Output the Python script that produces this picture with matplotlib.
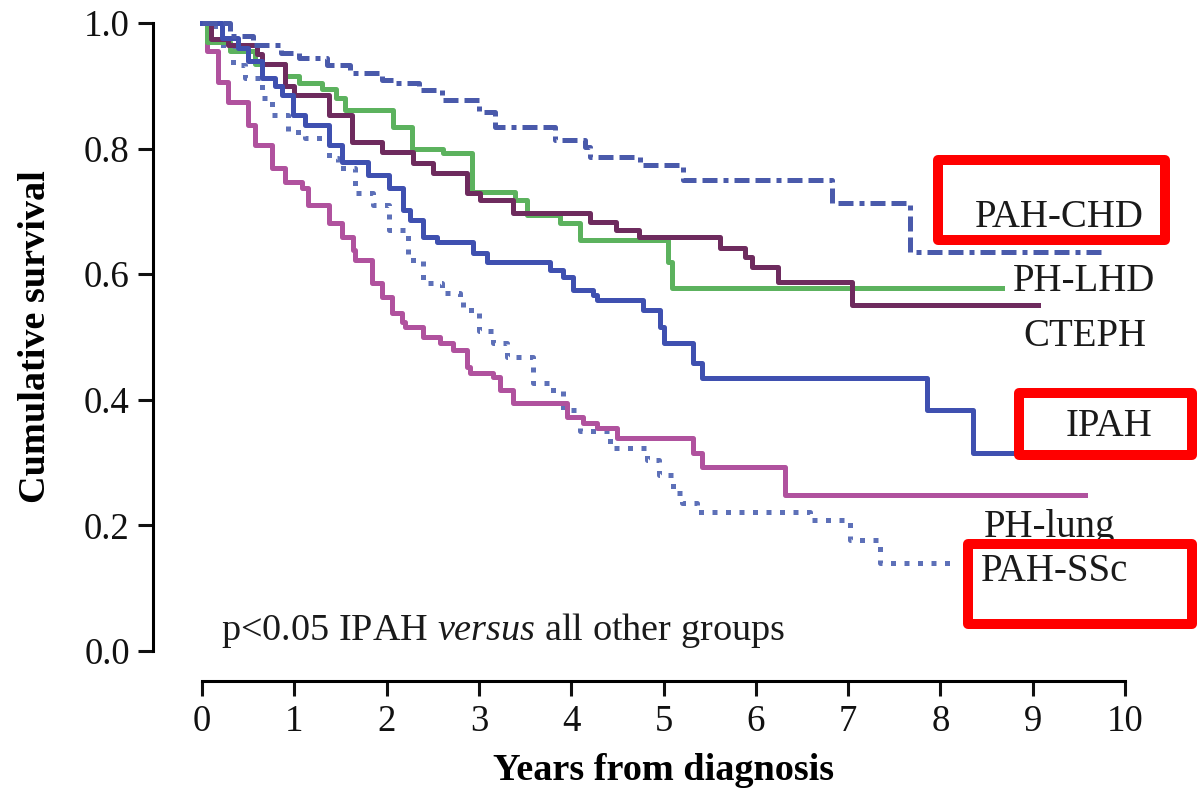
import matplotlib
matplotlib.use("Agg")
import matplotlib.pyplot as plt
from matplotlib.patches import Rectangle

plt.rcParams['font.family'] = ['Liberation Serif', 'DejaVu Serif']
plt.rcParams['mathtext.fontset'] = 'custom'
plt.rcParams['mathtext.rm'] = 'Liberation Serif'
plt.rcParams['mathtext.it'] = 'Liberation Serif:italic'

# Kaplan-Meier survival per group (time in years, survival after the step)
ipah_t = [0, 0.22, 0.39, 0.5, 0.65, 0.79, 0.87, 0.98, 1.12, 1.37, 1.52, 1.80, 2.02, 2.18, 2.25,
          2.39, 2.55, 2.94, 3.09, 3.77, 3.91, 4.02, 4.24, 4.28, 4.78, 4.96, 5.0, 5.32, 5.42, 7.85, 8.35]
ipah_s = [1.0, 0.976, 0.96, 0.94, 0.912, 0.90, 0.885, 0.853, 0.838, 0.806, 0.779, 0.758, 0.737, 0.702, 0.686,
          0.659, 0.651, 0.634, 0.619, 0.607, 0.596, 0.575, 0.567, 0.559, 0.543, 0.516, 0.49, 0.459, 0.435, 0.384, 0.315]
ipah_end = 9.2

chd_t = [0, 0.3, 0.55, 0.85, 1.05, 1.35, 1.6, 1.95, 2.1, 2.35, 2.6, 3.0, 3.17, 3.82, 4.15, 4.2, 4.75, 5.21, 6.83, 7.67]
chd_s = [1.0, 0.98, 0.965, 0.952, 0.944, 0.933, 0.92, 0.91, 0.905, 0.893, 0.877, 0.858, 0.835, 0.814, 0.803,
         0.787, 0.774, 0.75, 0.713, 0.635]
chd_end = 9.75

lhd_t = [0, 0.05, 0.3, 0.57, 0.9, 1.05, 1.3, 1.45, 1.55, 2.07, 2.28, 2.61, 2.93, 3.39, 3.52, 3.88, 4.10, 5.05, 5.09]
lhd_s = [1.0, 0.97, 0.955, 0.935, 0.915, 0.905, 0.895, 0.88, 0.862, 0.834, 0.80, 0.793, 0.731, 0.718, 0.694,
         0.682, 0.654, 0.62, 0.578]
lhd_end = 8.67

cteph_t = [0, 0.1, 0.28, 0.6, 0.65, 0.9, 1.0, 1.37, 1.62, 1.95, 2.29, 2.5, 2.87, 3.01, 3.37, 4.2, 4.48, 4.73,
           5.61, 5.88, 5.96, 6.24, 7.04]
cteph_s = [1.0, 0.975, 0.965, 0.95, 0.935, 0.9, 0.885, 0.853, 0.81, 0.795, 0.777, 0.761, 0.729, 0.718, 0.697,
           0.683, 0.67, 0.659, 0.642, 0.627, 0.611, 0.588, 0.551]
cteph_end = 9.06

lung_t = [0, 0.05, 0.17, 0.28, 0.5, 0.57, 0.76, 0.9, 1.08, 1.15, 1.37, 1.52, 1.63, 1.66, 1.84, 1.95, 2.06, 2.17,
          2.2, 2.39, 2.58, 2.72, 2.87, 2.90, 3.15, 3.23, 3.37, 3.95, 4.13, 4.28, 4.50, 5.32, 5.42, 6.32]
lung_s = [1.0, 0.955, 0.906, 0.874, 0.838, 0.806, 0.769, 0.747, 0.737, 0.71, 0.682, 0.659, 0.639, 0.623, 0.586,
          0.564, 0.538, 0.524, 0.516, 0.5, 0.49, 0.479, 0.452, 0.443, 0.436, 0.416, 0.395, 0.373, 0.363, 0.355,
          0.339, 0.315, 0.293, 0.248]
lung_end = 9.57

ssc_t = [0, 0.14, 0.33, 0.47, 0.65, 0.76, 0.93, 1.12, 1.37, 1.47, 1.66, 1.85, 2.02, 2.23, 2.39, 2.6, 2.80, 2.83,
         3.0, 3.15, 3.30, 3.59, 3.77, 3.91, 4.1, 4.42, 4.82, 4.95, 5.10, 5.2, 5.36, 6.59, 7.02, 7.35]
ssc_s = [1.0, 0.965, 0.933, 0.912, 0.88, 0.853, 0.826, 0.817, 0.785, 0.769, 0.729, 0.71, 0.67, 0.623, 0.586, 0.57,
         0.559, 0.543, 0.51, 0.49, 0.468, 0.427, 0.416, 0.384, 0.35, 0.323, 0.304, 0.28, 0.252, 0.235, 0.221,
         0.209, 0.177, 0.14]
ssc_end = 8.10

groups = ["PAH-CHD", "PH-LHD", "CTEPH", "IPAH", "PH-lung", "PAH-SSc"]

fig = plt.figure(figsize=(11.97, 7.88), dpi=100)
ax = fig.add_axes([0.1688, 0.1739, 0.7711, 0.7969])


def km(t, s, end, **kw):
    ax.step(t + [end], s + [s[-1]], where="post", clip_on=False, **kw)


km(ssc_t, ssc_s, ssc_end, color="#5d70b8", lw=3.6, linestyle=(0, (1, 1.7)))
km(lung_t, lung_s, lung_end, color="#b0529e", lw=3.6)
km(lhd_t, lhd_s, lhd_end, color="#5cb25e", lw=3.6)
km(cteph_t, cteph_s, cteph_end, color="#6e2b5e", lw=3.6)
km(ipah_t, ipah_s, ipah_end, color="#3f50b0", lw=3.6)
km(chd_t, chd_s, chd_end, color="#4a5aab", lw=3.6, linestyle=(0, (3, 1.2, 3, 1.2, 1, 1.2)))

ax.set_xlim(0, 10)
ax.set_ylim(0, 1)
ax.set_xticks(range(0, 11))
ax.set_yticks([0, 0.2, 0.4, 0.6, 0.8, 1.0])
ax.set_yticklabels(["0.0", "0.2", "0.4", "0.6", "0.8", "1.0"])

for side in ["top", "right"]:
    ax.spines[side].set_visible(False)
ax.spines["left"].set_position(("outward", 35))
ax.spines["bottom"].set_position(("outward", 21.5))
for side in ["left", "bottom"]:
    ax.spines[side].set_linewidth(2.2)
ax.tick_params(axis="both", length=11, width=2.2, labelsize=26.5, colors="#111111")
ax.tick_params(axis="y", pad=6)
ax.tick_params(axis="x", pad=6)

ax.set_ylabel("Cumulative survival", fontsize=27.5, fontweight="bold")
ax.yaxis.set_label_coords(-0.162, 0.5)
ax.set_xlabel("Years from diagnosis", fontsize=27.5, fontweight="bold")
ax.xaxis.set_label_coords(0.5, -0.162)

# group names at the end of each curve
label_x = [9.29, 9.55, 9.57, 9.83, 9.18, 9.24]
label_y = [0.691, 0.588, 0.50, 0.357, 0.197, 0.126]
for name, lx, ly in zip(groups, label_x, label_y):
    ax.text(lx, ly, name, fontsize=28, ha="center", va="center", color="#1a1a1a", clip_on=False)

ax.text(0.2, 0.032, r"p<0.05 IPAH $\mathit{versus}$ all other groups", fontsize=27.5,
        ha="left", va="center", color="#1a1a1a")

# red highlight frames around three of the group names
W, H = 1197.0, 788.0
frames = [(938, 160, 1165, 240), (1019, 393, 1192, 455), (968, 544, 1192, 624)]
for x0, y0, x1, y1 in frames:
    fig.patches.append(Rectangle((x0 / W, 1 - y1 / H), (x1 - x0) / W, (y1 - y0) / H,
                                 transform=fig.transFigure, fill=False, edgecolor="#ff0000",
                                 linewidth=7.2, joinstyle="round"))

fig.savefig("out.png", dpi=100)
